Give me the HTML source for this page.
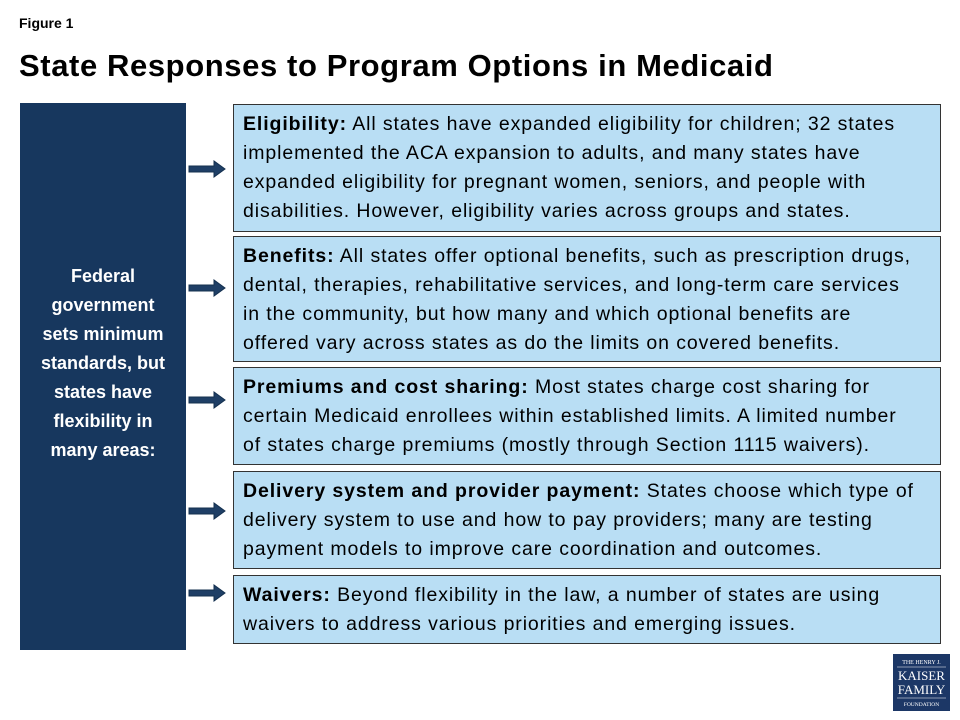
<!DOCTYPE html>
<html><head><style>
body{margin:0;width:960px;height:720px;background:#fff;font-family:"Liberation Sans",sans-serif;position:relative;overflow:hidden}
.a{position:absolute}
.box{position:absolute;left:233px;width:708px;background:#b9def4;border:1px solid #333;box-sizing:border-box;padding:5px 0 0 9px;font-size:19.5px;letter-spacing:0.9px;line-height:29px;color:#000;white-space:nowrap}
</style></head><body>
<div class="a" style="left:19px;top:15px;font-size:14px;font-weight:bold">Figure 1</div>
<div class="a" style="left:19px;top:48px;font-size:31px;font-weight:bold;letter-spacing:0.6px">State Responses to Program Options in Medicaid</div>
<div class="a" style="left:20px;top:103px;width:166px;height:547px;background:#17375e"></div>
<div class="a" style="left:20px;top:262px;width:166px;text-align:center;color:#fff;font-weight:bold;font-size:18px;line-height:29px">Federal<br>government<br>sets minimum<br>standards, but<br>states have<br>flexibility in<br>many areas:</div>

<div class="box" style="top:104px;height:128px"><b>Eligibility:</b> All states have expanded eligibility for children; 32 states<br>implemented the ACA expansion to adults, and many states have<br>expanded eligibility for pregnant women, seniors, and people with<br>disabilities. However, eligibility varies across groups and states.</div>
<div class="box" style="top:236px;height:126px"><b>Benefits:</b> All states offer optional benefits, such as prescription drugs,<br>dental, therapies, rehabilitative services, and long-term care services<br>in the community, but how many and which optional benefits are<br>offered vary across states as do the limits on covered benefits.</div>
<div class="box" style="top:367px;height:98px"><b>Premiums and cost sharing:</b> Most states charge cost sharing for<br>certain Medicaid enrollees within established limits. A limited number<br>of states charge premiums (mostly through Section 1115 waivers).</div>
<div class="box" style="top:471px;height:98px"><b>Delivery system and provider payment:</b> States choose which type of<br>delivery system to use and how to pay providers; many are testing<br>payment models to improve care coordination and outcomes.</div>
<div class="box" style="top:575px;height:69px"><b>Waivers:</b> Beyond flexibility in the law, a number of states are using<br>waivers to address various priorities and emerging issues.</div>

<svg class="a" style="left:0;top:0" width="960" height="720">
<g fill="#1f3f66" stroke="#14304f" stroke-width="1">
<path d="M189 166h25v-5l11 8-11 8v-5h-25z"/>
<path d="M189 285h25v-5l11 8-11 8v-5h-25z"/>
<path d="M189 397h25v-5l11 8-11 8v-5h-25z"/>
<path d="M189 508h25v-5l11 8-11 8v-5h-25z"/>
<path d="M189 590h25v-5l11 8-11 8v-5h-25z"/>
</g>
<rect x="893" y="654" width="57" height="57" fill="#1c3766"/>
<text x="921.5" y="664" fill="#fff" font-family="Liberation Serif,serif" font-size="6" text-anchor="middle">THE HENRY J.</text>
<line x1="897" y1="667" x2="946" y2="667" stroke="#fff" stroke-width="0.5"/>
<text x="921.5" y="680" fill="#fff" font-family="Liberation Serif,serif" font-size="13" text-anchor="middle">KAISER</text>
<text x="921.5" y="694" fill="#fff" font-family="Liberation Serif,serif" font-size="13" text-anchor="middle">FAMILY</text>
<line x1="897" y1="698" x2="946" y2="698" stroke="#fff" stroke-width="0.5"/>
<text x="921.5" y="706" fill="#fff" font-family="Liberation Serif,serif" font-size="5.5" text-anchor="middle">FOUNDATION</text>
</svg>
</body></html>
